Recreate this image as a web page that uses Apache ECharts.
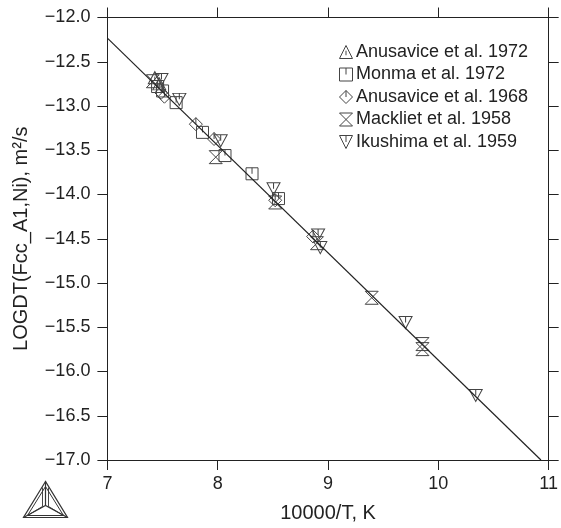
<!DOCTYPE html>
<html><head><meta charset="utf-8">
<script src="https://cdn.jsdelivr.net/npm/echarts@6/dist/echarts.min.js"></script>
<style>html,body{margin:0;padding:0;background:#fff}#c{width:561px;height:528px}</style>
</head><body><div id="c"></div>
<script>
// ---- data ----
const xTicks = [7, 8, 9, 10, 11];
const yTicks = [-12.0, -12.5, -13.0, -13.5, -14.0, -14.5, -15.0, -15.5, -16.0, -16.5, -17.0];
const seriesNames = ['Anusavice et al. 1972', 'Monma et al. 1972', 'Anusavice et al. 1968', 'Mackliet et al. 1958', 'Ikushima et al. 1959'];
const anus72X = [7.43, 7.47];
const anus72Y = [-12.68, -12.75];
const monmaX = [7.455, 7.50, 7.623, 7.862, 8.066, 8.311, 8.551];
const monmaY = [-12.78, -12.83, -12.962, -13.298, -13.56, -13.766, -14.046];
const anus68X = [7.488, 7.517, 7.802, 7.967, 8.521, 8.865];
const anus68Y = [-12.85, -12.895, -13.205, -13.373, -14.065, -14.475];
const mackX = [7.412, 7.982, 8.521, 8.90, 9.396, 9.856, 9.856];
const mackY = [-12.72, -13.578, -14.09, -14.55, -15.167, -15.69, -15.747];
const ikuX = [7.49, 7.652, 8.027, 8.506, 8.91, 8.93, 9.703, 10.339];
const ikuY = [-12.70, -12.925, -13.392, -13.934, -14.457, -14.60, -15.447, -16.27];
const fitX = [7.0, 10.93];
const fitY = [-12.233, -17.0];

const zip = (a, b) => a.map((v, i) => [v, b[i]]);
const symbols = [
  'path://M0,10 L5,0 L10,10 Z M5,4 L5,7.5',
  'path://M0,0 L10,0 L10,10 L0,10 Z M5,0 L5,5',
  'path://M5,0 L10,5 L5,10 L0,5 Z M5,0 L5,5',
  'path://M0,0 L10,0 L0,10 L10,10 Z',
  'path://M0,0 L10,0 L5,10 Z M5,0 L5,5'
];
const sizes = [[13,12],[12,12],[13,13],[13,13],[13,12]];
const dataSets = [zip(anus72X, anus72Y), zip(monmaX, monmaY), zip(anus68X, anus68Y), zip(mackX, mackY), zip(ikuX, ikuY)];

const font = 'Liberation Sans, Arial, Helvetica, sans-serif';
const fmtY = v => (v < 0 ? '\u2212' : '') + Math.abs(v).toFixed(1);
const axisCommon = {
  axisLine: {show: true, onZero: false, lineStyle: {color: '#222', width: 1}},
  axisTick: {show: true, inside: false, length: 10, lineStyle: {color: '#222', width: 1}},
  splitLine: {show: false}
};

const chart = echarts.init(document.getElementById('c'), null, {renderer: 'canvas'});
const series = seriesNames.map((n, i) => ({
  name: n, type: 'scatter', xAxisIndex: 0, yAxisIndex: 0,
  symbol: symbols[i], symbolSize: sizes[i],
  itemStyle: {color: 'rgba(0,0,0,0)', borderColor: '#444', borderWidth: 1, opacity: 1},
  emphasis: {disabled: true},
  data: dataSets[i], z: 3
}));
series.push({
  type: 'line', xAxisIndex: 0, yAxisIndex: 0, data: zip(fitX, fitY), symbol: 'none',
  lineStyle: {color: '#222', width: 1.2}, z: 4, silent: true
});

chart.setOption({
  animation: false,
  backgroundColor: '#fff',
  textStyle: {fontFamily: font, color: '#222'},
  grid: {left: 107.4, right: 8.3, top: 17.5, bottom: 64.7, containLabel: false},
  legend: {
    orient: 'vertical', left: 334, top: 38,
    itemWidth: 14, itemHeight: 13, itemGap: 4.5,
    textStyle: {fontFamily: font, fontSize: 18, color: '#222', padding: [0,0,0,-2]},
    data: seriesNames.map((n, i) => ({name: n, icon: symbols[i]})),
    itemStyle: {color: 'rgba(0,0,0,0)', borderColor: '#444', borderWidth: 1},
    selectedMode: false
  },
  xAxis: [
    Object.assign({}, axisCommon, {
      type: 'value', min: 7, max: 11, interval: 1, position: 'bottom',
      name: '10000/T, K', nameLocation: 'middle', nameGap: 43,
      nameTextStyle: {fontFamily: font, fontSize: 20, color: '#222'},
      axisLabel: {fontFamily: font, fontSize: 18, color: '#222', margin: 15,
        formatter: v => xTicks.includes(v) ? String(v) : ''}
    }),
    Object.assign({}, axisCommon, {
      type: 'value', min: 7, max: 11, interval: 1, position: 'top',
      axisLabel: {show: false}
    })
  ],
  yAxis: [
    Object.assign({}, axisCommon, {
      type: 'value', min: -17, max: -12, interval: 0.5, position: 'left',
      name: 'LOGDT(Fcc_A1,Ni), m\u00B2/s', nameLocation: 'middle', nameGap: 76, nameRotate: 90,
      nameTextStyle: {fontFamily: font, fontSize: 20, color: '#222'},
      axisLabel: {fontFamily: font, fontSize: 18, color: '#222', margin: 17,
        formatter: v => yTicks.some(t => Math.abs(t - v) < 1e-9) ? fmtY(v) : ''}
    }),
    Object.assign({}, axisCommon, {
      type: 'value', min: -17, max: -12, interval: 0.5, position: 'right',
      axisLabel: {show: false}
    })
  ],
  graphic: [
    {type: 'group', left: 21, top: 479, children: [
      {type: 'polygon', shape: {points: [[22,0],[0,36],[44,36]]}, style: {fill: 'none', stroke: '#333', lineWidth: 1.2}},
      {type: 'polygon', shape: {points: [[22,5],[4,34],[40,34]]}, style: {fill: 'none', stroke: '#333', lineWidth: 1}},
      {type: 'polyline', shape: {points: [[22,0],[22,24]]}, style: {stroke: '#333', lineWidth: 1.2}},
      {type: 'polyline', shape: {points: [[0,36],[22,24],[44,36]]}, style: {fill: 'none', stroke: '#333', lineWidth: 1.2}},
      {type: 'polyline', shape: {points: [[19,6],[19,25],[4,34]]}, style: {fill: 'none', stroke: '#333', lineWidth: 0.9}},
      {type: 'polyline', shape: {points: [[25,6],[25,25],[40,34]]}, style: {fill: 'none', stroke: '#333', lineWidth: 0.9}}
    ]}
  ],
  series: series
});
</script></body></html>
